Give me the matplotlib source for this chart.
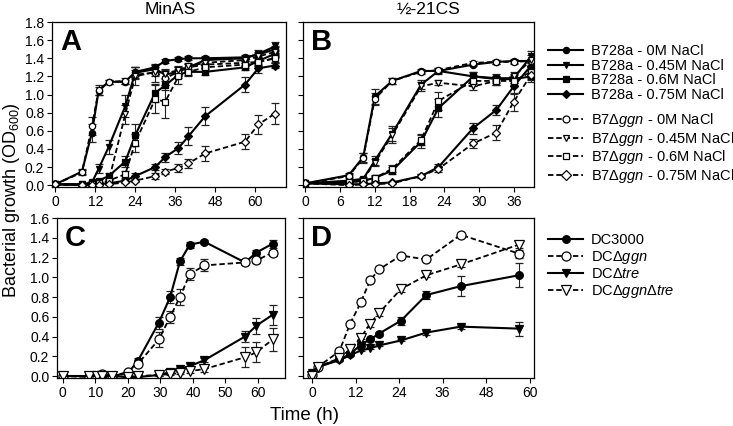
import matplotlib
matplotlib.use("Agg")
import matplotlib.pyplot as plt
from matplotlib.lines import Line2D
import numpy as np

plt.rcParams['font.family'] = ['Liberation Sans', 'DejaVu Sans']
plt.rcParams['mathtext.fontset'] = 'custom'
plt.rcParams['mathtext.rm'] = 'Liberation Sans'
plt.rcParams['mathtext.it'] = 'Liberation Sans:italic'

# ---- Panel A: MinAS (B728a vs B7 ggn, NaCl) ----
time_a = [0, 8, 11, 13, 16, 21, 24, 30, 33, 37, 40, 45, 57, 61, 66]
a_w0 = [0.01, 0.15, 0.58, 1.04, 1.14, 1.14, 1.25, 1.30, 1.37, 1.39, 1.40, 1.40, 1.41, 1.44, 1.50]
a_w0_err = [0, 0.03, 0.10, 0.04, 0.02, 0.02, 0.05, 0.03, 0.02, 0.02, 0.02, 0.02, 0.03, 0.03, 0.04]
a_w45 = [0.01, 0.01, 0.03, 0.18, 0.42, 0.87, 1.24, 1.28, 1.22, 1.25, 1.30, 1.38, 1.40, 1.45, 1.53]
a_w45_err = [0, 0, 0.02, 0.05, 0.08, 0.12, 0.06, 0.05, 0.05, 0.05, 0.04, 0.03, 0.03, 0.04, 0.05]
a_w60 = [0.01, 0.01, 0.02, 0.05, 0.10, 0.26, 0.55, 1.02, 1.10, 1.22, 1.25, 1.25, 1.30, 1.37, 1.45]
a_w60_err = [0, 0, 0.01, 0.02, 0.03, 0.06, 0.12, 0.10, 0.05, 0.04, 0.03, 0.03, 0.03, 0.04, 0.04]
a_w75 = [0.01, 0.0, 0.0, 0.01, 0.02, 0.05, 0.10, 0.20, 0.31, 0.41, 0.54, 0.76, 1.11, 1.29, 1.32]
a_w75_err = [0, 0, 0, 0, 0.01, 0.02, 0.03, 0.03, 0.05, 0.07, 0.10, 0.10, 0.08, 0.05, 0.03]
a_g0 = [0.01, 0.14, 0.65, 1.05, 1.14, 1.15, 1.22, 1.24, 1.18, 1.25, 1.30, 1.33, 1.35, 1.36, 1.40]
a_g0_err = [0, 0.03, 0.10, 0.05, 0.02, 0.03, 0.05, 0.10, 0.08, 0.05, 0.04, 0.04, 0.04, 0.04, 0.04]
a_g45 = [0.01, 0.0, 0.0, 0.01, 0.04, 0.78, 1.20, 1.25, 1.23, 1.27, 1.31, 1.35, 1.38, 1.42, 1.47]
a_g45_err = [0, 0, 0, 0.01, 0.02, 0.10, 0.10, 0.05, 0.05, 0.04, 0.04, 0.03, 0.03, 0.04, 0.05]
a_g60 = [0.01, 0.0, 0.01, 0.02, 0.05, 0.12, 0.47, 0.95, 0.92, 1.20, 1.25, 1.30, 1.33, 1.36, 1.40]
a_g60_err = [0, 0, 0, 0.01, 0.02, 0.04, 0.10, 0.15, 0.18, 0.08, 0.05, 0.04, 0.04, 0.04, 0.05]
a_g75 = [0.01, 0.0, 0.0, 0.0, 0.01, 0.03, 0.05, 0.10, 0.15, 0.19, 0.24, 0.35, 0.48, 0.67, 0.79]
a_g75_err = [0, 0, 0, 0, 0, 0.01, 0.02, 0.03, 0.03, 0.04, 0.05, 0.08, 0.08, 0.10, 0.12]

# ---- Panel B: 1/2-21CS ----
time_b = [0, 7.5, 10, 12, 15, 20, 23, 29, 33, 36, 39]
b_w0 = [0.02, 0.11, 0.31, 0.98, 1.15, 1.26, 1.26, 1.33, 1.36, 1.37, 1.37]
b_w0_err = [0, 0.02, 0.05, 0.08, 0.03, 0.02, 0.02, 0.02, 0.02, 0.02, 0.02]
b_w45 = [0.02, 0.05, 0.07, 0.27, 0.57, 1.11, 1.26, 1.20, 1.18, 1.18, 1.42]
b_w45_err = [0, 0.01, 0.02, 0.05, 0.08, 0.05, 0.03, 0.05, 0.05, 0.05, 0.06]
b_w60 = [0.02, 0.03, 0.05, 0.08, 0.16, 0.48, 0.85, 1.20, 1.17, 1.17, 1.20]
b_w60_err = [0, 0.01, 0.01, 0.03, 0.04, 0.07, 0.10, 0.05, 0.03, 0.04, 0.04]
b_w75 = [0.02, 0.01, 0.01, 0.02, 0.03, 0.10, 0.20, 0.63, 0.83, 1.09, 1.32]
b_w75_err = [0, 0, 0, 0.01, 0.01, 0.02, 0.03, 0.06, 0.06, 0.08, 0.06]
b_g0 = [0.02, 0.10, 0.30, 0.95, 1.15, 1.25, 1.27, 1.35, 1.36, 1.36, 1.37]
b_g0_err = [0, 0.02, 0.05, 0.07, 0.03, 0.02, 0.02, 0.02, 0.02, 0.02, 0.02]
b_g45 = [0.02, 0.04, 0.06, 0.25, 0.55, 1.09, 1.13, 1.09, 1.15, 1.20, 1.38]
b_g45_err = [0, 0.01, 0.02, 0.04, 0.08, 0.05, 0.03, 0.04, 0.05, 0.05, 0.06]
b_g60 = [0.02, 0.03, 0.05, 0.08, 0.18, 0.50, 0.93, 1.15, 1.15, 1.15, 1.25]
b_g60_err = [0, 0, 0.01, 0.02, 0.04, 0.06, 0.10, 0.06, 0.04, 0.04, 0.05]
b_g75 = [0.02, 0.0, 0.01, 0.01, 0.02, 0.10, 0.18, 0.46, 0.58, 0.92, 1.22]
b_g75_err = [0, 0, 0, 0, 0.01, 0.02, 0.03, 0.05, 0.08, 0.10, 0.08]

# ---- Panel C: DC3000 strains, MinAS ----
time_c = [0, 8, 10.5, 12, 15, 20, 23, 29.5, 33, 36, 39, 43.5, 56, 59.5, 64.5]
c_wt = [0.0, 0.0, 0.0, 0.0, 0.0, 0.03, 0.15, 0.54, 0.80, 1.16, 1.33, 1.36, 1.15, 1.25, 1.34]
c_wt_err = [0, 0, 0, 0, 0, 0.01, 0.03, 0.06, 0.06, 0.04, 0.03, 0.02, 0.02, 0.03, 0.04]
c_ggn = [0.0, -0.01, -0.01, 0.02, 0.0, 0.04, 0.12, 0.37, 0.60, 0.80, 1.03, 1.12, 1.15, 1.17, 1.25]
c_ggn_err = [0, 0, 0, 0, 0, 0.01, 0.02, 0.08, 0.06, 0.08, 0.06, 0.06, 0.03, 0.03, 0.03]
c_tre = [0.0, 0.0, 0.0, 0.0, 0.0, -0.01, -0.01, 0.01, 0.04, 0.07, 0.10, 0.16, 0.40, 0.51, 0.62]
c_tre_err = [0, 0, 0, 0, 0, 0, 0, 0.01, 0.01, 0.02, 0.02, 0.02, 0.06, 0.08, 0.10]
c_both = [0.0, 0.0, 0.0, 0.0, 0.0, -0.01, 0.0, 0.01, 0.02, 0.03, 0.05, 0.07, 0.19, 0.24, 0.37]
c_both_err = [0, 0, 0, 0, 0, 0, 0, 0.01, 0.01, 0.01, 0.02, 0.03, 0.10, 0.10, 0.12]

# ---- Panel D: DC3000 strains, 1/2-21CS ----
time_d = [0, 1.5, 7.5, 10.5, 13.5, 16, 18.5, 24.5, 31.5, 41, 57]
d_wt = [0.03, 0.09, 0.17, 0.22, 0.32, 0.37, 0.43, 0.56, 0.82, 0.91, 1.02]
d_wt_err = [0, 0, 0.01, 0.01, 0.02, 0.02, 0.02, 0.04, 0.04, 0.10, 0.12]
d_ggn = [0.01, 0.09, 0.25, 0.53, 0.75, 0.97, 1.08, 1.22, 1.18, 1.43, 1.24]
d_ggn_err = [0, 0, 0.01, 0.01, 0.02, 0.02, 0.02, 0.02, 0.02, 0.02, 0.04]
d_tre = [0.03, 0.09, 0.16, 0.21, 0.26, 0.28, 0.31, 0.36, 0.44, 0.50, 0.48]
d_tre_err = [0, 0, 0.01, 0.01, 0.01, 0.01, 0.01, 0.01, 0.02, 0.02, 0.07]
d_both = [0.0, 0.09, 0.18, 0.27, 0.39, 0.53, 0.64, 0.88, 1.02, 1.13, 1.33]
d_both_err = [0, 0, 0.02, 0.02, 0.02, 0.03, 0.03, 0.03, 0.02, 0.03, 0.03]

salt_labels = ["0M NaCl", "0.45M NaCl", "0.6M NaCl", "0.75M NaCl"]
strain_labels = ["DC3000", r"DC$\Delta$$\it{ggn}$", r"DC$\Delta$$\it{tre}$",
                 r"DC$\Delta$$\it{ggn}$$\Delta$$\it{tre}$"]

W, H = 733, 426
fig = plt.figure(figsize=(W / 100, H / 100), dpi=100)


def px_axes(left, top, right, bottom):
    return fig.add_axes([left / W, 1 - bottom / H, (right - left) / W, (bottom - top) / H])


ax_a = px_axes(52, 22, 286, 187)
ax_b = px_axes(303, 22, 534, 187)
ax_c = px_axes(57, 218, 285, 378)
ax_d = px_axes(303, 218, 534, 378)

MARKERS = ['o', 'v', 's', 'D']
DASH = (3.0, 1.6)


def draw(ax, t, y, err, marker, filled, ms):
    ls = '-' if filled else '--'
    lw = 1.5 if filled else 1.3
    ebar = ax.errorbar(t, y, yerr=err, color='black', ls=ls, lw=lw, marker=marker, ms=ms,
                       mfc='black' if filled else 'white', mec='black', mew=0.9,
                       ecolor='#222222', elinewidth=0.8, capsize=3, capthick=0.8)
    if not filled:
        ebar[0].set_dashes(DASH)


small = [4.5, 4.5, 4.5, 4.2]
for i, (y, e) in enumerate(zip([a_w0, a_w45, a_w60, a_w75], [a_w0_err, a_w45_err, a_w60_err, a_w75_err])):
    draw(ax_a, time_a, y, e, MARKERS[i], True, small[i])
for i, (y, e) in enumerate(zip([a_g0, a_g45, a_g60, a_g75], [a_g0_err, a_g45_err, a_g60_err, a_g75_err])):
    draw(ax_a, time_a, y, e, MARKERS[i], False, small[i])
for i, (y, e) in enumerate(zip([b_w0, b_w45, b_w60, b_w75], [b_w0_err, b_w45_err, b_w60_err, b_w75_err])):
    draw(ax_b, time_b, y, e, MARKERS[i], True, small[i])
for i, (y, e) in enumerate(zip([b_g0, b_g45, b_g60, b_g75], [b_g0_err, b_g45_err, b_g60_err, b_g75_err])):
    draw(ax_b, time_b, y, e, MARKERS[i], False, small[i])

big = 6.5
draw(ax_c, time_c, c_wt, c_wt_err, 'o', True, 5.5)
draw(ax_c, time_c, c_ggn, c_ggn_err, 'o', False, big)
draw(ax_c, time_c, c_tre, c_tre_err, 'v', True, 5.5)
draw(ax_c, time_c, c_both, c_both_err, 'v', False, big)
draw(ax_d, time_d, d_wt, d_wt_err, 'o', True, 5.5)
draw(ax_d, time_d, d_ggn, d_ggn_err, 'o', False, big)
draw(ax_d, time_d, d_tre, d_tre_err, 'v', True, 5.5)
draw(ax_d, time_d, d_both, d_both_err, 'v', False, big)

# axes formatting
ax_a.set_xlim(-1, 69.3)
ax_a.set_xticks(np.arange(0, 61, 12))
ax_b.set_xlim(-0.4, 39.5)
ax_b.set_xticks(np.arange(0, 37, 6))
ax_c.set_xlim(-1.8, 68.3)
ax_c.set_xticks(np.arange(0, 61, 10))
ax_d.set_xlim(-2.5, 61.2)
ax_d.set_xticks(np.arange(0, 61, 12))
for ax in (ax_a, ax_b):
    ax.set_ylim(-0.02, 1.8)
    ax.set_yticks(np.arange(0, 1.81, 0.2))
for ax in (ax_c, ax_d):
    ax.set_ylim(-0.02, 1.6)
    ax.set_yticks(np.arange(0, 1.61, 0.2))

for ax, letter in zip((ax_a, ax_b, ax_c, ax_d), "ABCD"):
    ax.tick_params(direction='out', length=3.5, width=0.8, labelsize=10, pad=2,
                   top=False, right=False)
    ax.yaxis.set_major_formatter(matplotlib.ticker.FormatStrFormatter('%.1f'))
    for s in ax.spines.values():
        s.set_linewidth(0.9)
    ax.text(0.035, 0.965, letter, transform=ax.transAxes, fontsize=21, fontweight='bold',
            va='top', ha='left')
ax_b.set_yticklabels([])
ax_d.set_yticklabels([])

fig.text(170 / W, 1 - 9 / H, "MinAS", ha='center', va='center', fontsize=12.5)
fig.text(428 / W, 1 - 9 / H, "\u00bd-21CS", ha='center', va='center', fontsize=12.5)
fig.text(12 / W, 1 - 200 / H, "Bacterial growth (OD$_{600}$)", rotation=90,
         ha='center', va='center', fontsize=13)
fig.text(305 / W, 1 - 416 / H, "Time (h)", ha='center', va='center', fontsize=13.5)


def handle(marker, filled, ms):
    h = Line2D([], [], color='black', ls='-' if filled else '--', lw=1.5 if filled else 1.3,
               marker=marker, ms=ms, mfc='black' if filled else 'white', mec='black', mew=0.9)
    if not filled:
        h.set_dashes(DASH)
    return h


leg_kw = dict(frameon=False, fontsize=10.5, handlelength=2.4, handletextpad=0.55,
              labelspacing=0.05, borderpad=0, borderaxespad=0, loc='upper left')
fig.legend([handle(MARKERS[i], True, 4.5) for i in range(4)],
           ["B728a - " + s for s in salt_labels],
           bbox_to_anchor=(548 / W, 1 - 44 / H), **leg_kw)
fig.legend([handle(MARKERS[i], False, 5) for i in range(4)],
           [r"B7$\Delta$$\it{ggn}$ - " + s for s in salt_labels],
           bbox_to_anchor=(548 / W, 1 - 111 / H), **leg_kw)
fig.legend([handle('o', True, 5.5), handle('o', False, 6.5), handle('v', True, 5.5),
            handle('v', False, 6.5)], strain_labels,
           bbox_to_anchor=(548 / W, 1 - 233 / H), **dict(leg_kw, labelspacing=0.12))

fig.savefig("out.png", dpi=100)
